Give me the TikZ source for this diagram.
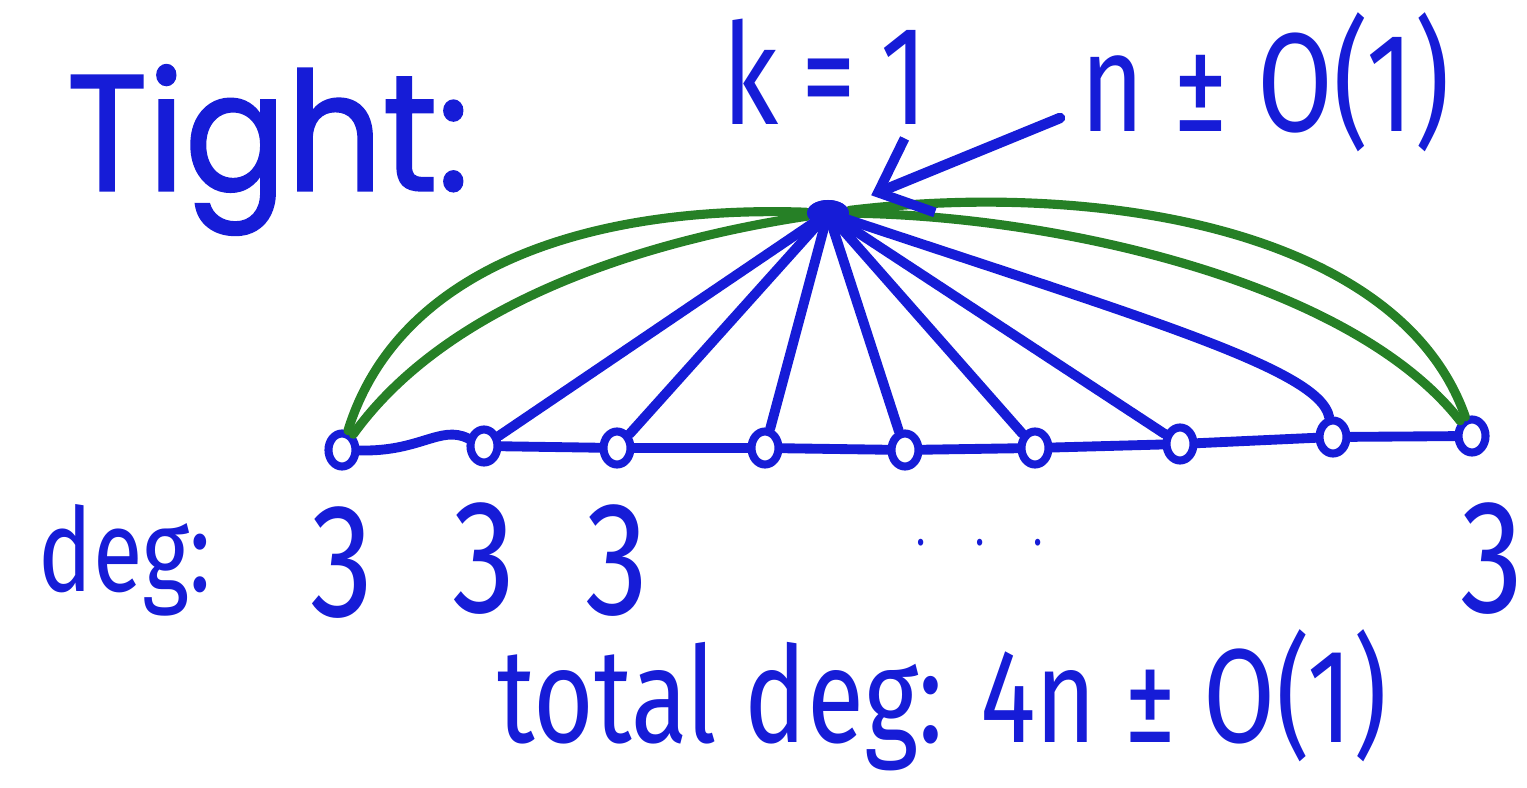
\documentclass[tikz,border=0pt]{standalone}
\usepackage{fontspec}
\setmainfont{Poppins}
\newfontfamily\titlefont[FakeStretch=0.91, FakeBold=1.2]{Poppins}
\newfontfamily\handfont[FakeStretch=0.78]{Fira Sans}
\usetikzlibrary{arrows.meta, positioning, shapes.geometric}
\definecolor{cInk}{RGB}{22,28,215}
\definecolor{cArc}{RGB}{38,128,38}
\tikzset{
  titletext/.style={text=cInk, inner sep=0pt, font=\titlefont\fontsize{47}{50}\selectfont},
  hand/.style={text=cInk, inner sep=0pt, font=\handfont\fontsize{38}{42}\selectfont},
  digit/.style={hand, font=\handfont\fontsize{46}{50}\selectfont},
  vertex/.style={ellipse, draw=cInk, line width=2.3pt, fill=white,
                 minimum width=0.27cm, minimum height=0.33cm, inner sep=0pt},
  hub/.style={ellipse, fill=cInk, minimum width=0.42cm,
              minimum height=0.26cm, inner sep=0pt},
  fan/.style={line width=2.8pt, color=cInk, line cap=round},
  arc/.style={line width=2.6pt, color=cArc, line cap=round},
  pointer/.style={-{Straight Barb[length=4.5mm, width=8mm, line width=2.8pt]},
                  line width=3pt, color=cInk, line cap=round}
}
\begin{document}
\begin{tikzpicture}[x=0.01cm, y=-0.01cm]
  \useasboundingbox (0,0) rectangle (1527,788);

  \node[titletext] (title) at (268,150) {Tight:};

  % ── Vertices ──
  \node[hub] (top) at (828,213) {};
  \foreach \i/\x/\y in {1/342/450, 2/484/446, 3/617/448, 4/765/448,
                        5/905/450, 6/1035/448, 7/1180/444, 8/1333/437, 9/1472/436}
    \node[vertex] (v\i) at (\x,\y) {};

  % ── Green arcs ──
  \draw[arc] (top) .. controls (600,205) and (400,262) .. (v1);
  \draw[arc] (top) .. controls (650,240) and (450,300) .. (v1);
  \draw[arc] (top) .. controls (1100,180) and (1400,230) .. (v9);
  \draw[arc] (top) .. controls (1050,215) and (1350,280) .. (v9);

  % ── Fan and path ──
  \foreach \i in {2,...,7}
    \draw[fan] (top) -- (v\i);
  \draw[fan] (top) .. controls (1150,320) and (1320,370) .. (v8);
  \draw[fan] (v1) .. controls (420,452) and (440,425) .. (v2)
             -- (v3) -- (v4) -- (v5) -- (v6) -- (v7) -- (v8) -- (v9);
  \node[hub] at (top) {};

  % ── Labels ──
  \node[hand, font=\handfont\fontsize{40}{44}\selectfont] (kone) at (825,72) {k\,=\,1};
  \node[hand, font=\handfont\fontsize{40}{44}\selectfont] (nbound) at (1265,82) {n ± O(1)};
  \coordinate (tail) at (1060,118);
  \draw[pointer, shorten >=0.27cm] (tail) -- (top);

  \node[hand, font=\handfont\fontsize{33}{36}\selectfont] (deg) at (125,560) {deg:};
  \node[digit, below=0.35cm of v1] (d1) {3};
  \node[digit, below=0.35cm of v2] (d2) {3};
  \node[digit, below=0.35cm of v3] (d3) {3};
  \node[digit, below=0.45cm of v9, xshift=0.2cm] (d9) {3};
  \node[hand, font=\handfont\fontsize{14}{16}\selectfont] (dots) at (980,543) {.\quad.\quad.};

  \node[hand] (total) at (942,700) {total deg: 4n ± O(1)};
\end{tikzpicture}
\end{document}
